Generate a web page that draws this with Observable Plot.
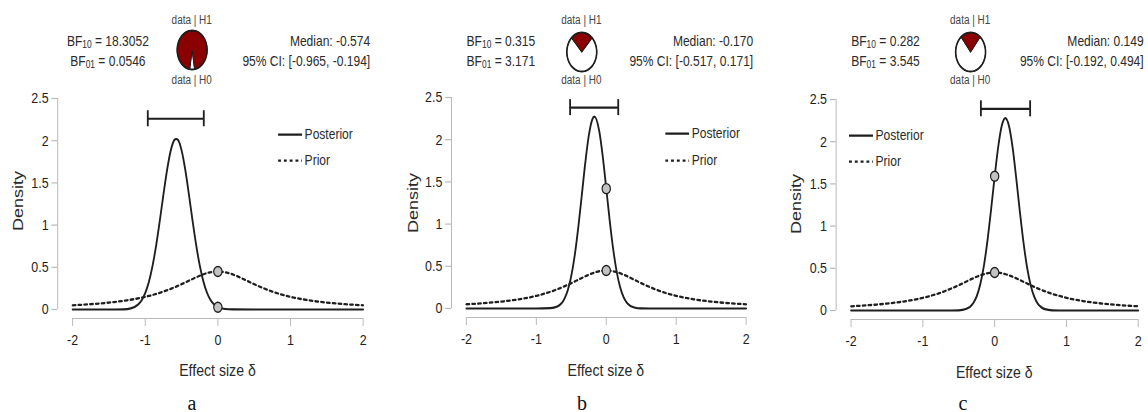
<!DOCTYPE html>
<html><head><meta charset="utf-8">
<script src="https://cdn.jsdelivr.net/npm/d3@7"></script>
<script src="https://cdn.jsdelivr.net/npm/@observablehq/plot@0.6"></script>
<style>
body{margin:0;background:#fff;}
#root{position:relative;width:1148px;height:412px;overflow:hidden;background:#fff;font-family:"Liberation Sans",Arial,Helvetica,sans-serif;}
.panel{position:absolute;top:0;width:461px;height:412px;transform:scaleX(0.83);transform-origin:0 0;}
.t{position:absolute;white-space:nowrap;line-height:1.15;color:#2a2a2a;}
.t sub{font-size:70%;line-height:0;vertical-align:-0.25em;}
.panel svg{position:absolute;left:0;top:0;}
.letter{position:absolute;font-family:"Liberation Serif","Times New Roman",serif;font-size:20px;line-height:1.15;color:#111;transform:translate(-50%,-50%);}
</style></head><body><div id="root"></div><script>
// ---------------- data ----------------
const panelIds = ["a", "b", "c"];
const bf10 = [18.3052, 0.315, 0.282];
const bf10Text = ["18.3052", "0.315", "0.282"];
const bf01Text = ["0.0546", "3.171", "3.545"];
const medianText = ["-0.574", "-0.170", "0.149"];
const ciLow = [-0.965, -0.517, -0.192];
const ciHigh = [-0.194, 0.171, 0.494];
const ciLowText = ["-0.965", "-0.517", "-0.192"];
const ciHighText = ["-0.194", "0.171", "0.494"];
const ciBarY = [2.26, 2.38, 2.39];
const dotPosterior = [0.027, 1.42, 1.59];
const dotPrior = [0.45, 0.45, 0.45];
const xTicks = [-2, -1, 0, 1, 2];
const xTickLabels = ["-2", "-1", "0", "1", "2"];
const yTicks = [0, 0.5, 1, 1.5, 2, 2.5];
const yTickLabels = ["0", "0.5", "1", "1.5", "2", "2.5"];
const legendLabels = ["Posterior", "Prior"];

const priorX = [-2, -1.75, -1.5, -1.25, -1, -0.75, -0.625, -0.5, -0.375, -0.25, -0.125, 0, 0.125, 0.25, 0.375, 0.5, 0.625, 0.75, 1, 1.25, 1.5, 1.75, 2];
const priorY = [0.050, 0.063, 0.082, 0.109, 0.150, 0.212, 0.253, 0.300, 0.351, 0.400, 0.437, 0.450, 0.437, 0.400, 0.351, 0.300, 0.253, 0.212, 0.150, 0.109, 0.082, 0.063, 0.050];

const postAX = [-2, -1.5, -1.3, -1.2, -1.1, -1.05, -1.0, -0.95, -0.9, -0.85, -0.8, -0.75, -0.7, -0.65, -0.6, -0.574, -0.55, -0.5, -0.45, -0.4, -0.35, -0.3, -0.25, -0.2, -0.15, -0.1, -0.05, 0, 0.1, 0.2, 0.5, 2];
const postAY = [0, 0, 0.002, 0.013, 0.058, 0.109, 0.195, 0.327, 0.515, 0.759, 1.05, 1.359, 1.65, 1.88, 2.007, 2.02, 2.01, 1.887, 1.661, 1.37, 1.061, 0.77, 0.523, 0.334, 0.2, 0.111, 0.059, 0.029, 0.006, 0.001, 0, 0];

const postBX = [-2, -1, -0.8, -0.7, -0.6, -0.55, -0.5, -0.45, -0.4, -0.35, -0.3, -0.25, -0.2, -0.17, -0.1, -0.05, 0, 0.05, 0.1, 0.15, 0.2, 0.25, 0.3, 0.4, 0.5, 0.7, 2];
const postBY = [0, 0, 0.004, 0.024, 0.113, 0.218, 0.388, 0.636, 0.963, 1.343, 1.727, 2.048, 2.24, 2.273, 2.10, 1.799, 1.42, 1.036, 0.697, 0.431, 0.247, 0.13, 0.063, 0.012, 0.001, 0, 0];

const postCX = [-2, -0.7, -0.5, -0.4, -0.3, -0.25, -0.2, -0.15, -0.1, -0.05, 0, 0.05, 0.1, 0.149, 0.2, 0.25, 0.3, 0.35, 0.4, 0.45, 0.5, 0.55, 0.6, 0.65, 0.7, 0.8, 1, 2];
const postCY = [0, 0, 0.002, 0.017, 0.085, 0.169, 0.312, 0.529, 0.829, 1.195, 1.587, 1.942, 2.193, 2.28, 2.185, 1.931, 1.571, 1.178, 0.816, 0.519, 0.305, 0.165, 0.082, 0.038, 0.016, 0.002, 0, 0];

const posteriorsX = [postAX, postBX, postCX];
const posteriorsY = [postAY, postBY, postCY];

// ---------------- layout (unscaled panel coords) ----------------
const panelLeft = [0, 383, 766];
const specs = [
  {mL: 87, mR: 24, mT: 98, zeroY: 309, bfX: 130, medX: 446, pieX: 231, pieY: 49, legX: 335, legY: [134, 160], densX: 21.7, densY: 201, effY: 371},
  {mL: 100, mR: 24, mT: 97, zeroY: 308, bfX: 142, medX: 446, pieX: 239, pieY: 51, legX: 340, legY: [133, 160], densX: 36, densY: 203, effY: 371},
  {mL: 102, mR: 13, mT: 99, zeroY: 310, bfX: 144, medX: 455, pieX: 246, pieY: 51, legX: 100, legY: [135, 161], densX: 36, densY: 204, effY: 373}
];
const letterX = [192, 582, 963];

const FONT = '"Liberation Sans", Arial, Helvetica, sans-serif';
const GRAY = "#b9b9b9";
const INK = "#1e1e1e";
const W = 461, H = 350;

const root = document.getElementById("root");

function addText(parent, html, x, yc, fs, anchor, rotate) {
  const d = document.createElement("div");
  d.className = "t";
  d.innerHTML = html;
  d.style.left = x + "px";
  d.style.top = yc + "px";
  d.style.fontSize = fs + "px";
  const ax = anchor === "middle" ? "-50%" : anchor === "end" ? "-100%" : "0";
  d.style.transform = `translate(${ax}, -50%)` + (rotate ? ` rotate(${rotate}deg)` : "");
  parent.appendChild(d);
  return d;
}

function wedge(a0, a1) {
  const pts = [{x: 0, y: 0}];
  const n = 60;
  for (let k = 0; k <= n; k++) {
    const t = a0 + (a1 - a0) * k / n;
    pts.push({x: Math.sin(t), y: Math.cos(t)});
  }
  pts.push({x: 0, y: 0});
  return pts;
}

panelIds.forEach((id, i) => {
  const s = specs[i];
  const panel = document.createElement("div");
  panel.className = "panel";
  panel.style.left = panelLeft[i] + "px";
  root.appendChild(panel);

  const prior = priorX.map((x, k) => ({x, y: priorY[k]}));
  const post = posteriorsX[i].map((x, k) => ({x, y: posteriorsY[i][k]}));
  const ci = [{lo: ciLow[i], hi: ciHigh[i], y: ciBarY[i]}];
  const ciEnds = [{x: ciLow[i], y: ciBarY[i]}, {x: ciHigh[i], y: ciBarY[i]}];
  const dots = [{x: 0, y: dotPrior[i]}, {x: 0, y: dotPosterior[i]}];
  const x0 = xTicks[0], x1 = xTicks[xTicks.length - 1];
  const y0 = yTicks[0], y1 = yTicks[yTicks.length - 1];

  const chart = Plot.plot({
    width: W, height: H,
    marginLeft: s.mL, marginRight: s.mR, marginTop: s.mT, marginBottom: H - s.zeroY,
    x: {domain: [x0, x1], label: null},
    y: {domain: [y0, y1], label: null},
    style: {fontFamily: FONT, fontSize: "15px", color: INK, background: "none", overflow: "visible"},
    marks: [
      Plot.ruleX([x0], {y1: y0, y2: y1, dx: -18, stroke: GRAY, strokeWidth: 1.2}),
      Plot.axisY({ticks: yTicks, tickFormat: d => yTickLabels[yTicks.indexOf(d)], dx: -18, tickSize: 7, tickPadding: 4, stroke: GRAY, strokeWidth: 1.2, label: null}),
      Plot.ruleY([y0], {x1: x0, x2: x1, dy: 9, stroke: GRAY, strokeWidth: 1.2}),
      Plot.axisX({ticks: xTicks, tickFormat: d => xTickLabels[xTicks.indexOf(d)], dy: 9, tickSize: 8, tickPadding: 8, stroke: GRAY, strokeWidth: 1.2, label: null}),
      Plot.line(prior, {x: "x", y: "y", stroke: INK, strokeWidth: 2.3, strokeDasharray: "3.5,3.5", curve: "monotone-x"}),
      Plot.line(post, {x: "x", y: "y", stroke: INK, strokeWidth: 2.2, curve: "monotone-x"}),
      Plot.ruleY(ci, {x1: "lo", x2: "hi", y: "y", stroke: INK, strokeWidth: 2.2}),
      Plot.ruleX(ciEnds, {x: "x", y1: "y", y2: "y", insetTop: -8, insetBottom: -8, stroke: INK, strokeWidth: 2.2}),
      Plot.dot(dots, {x: "x", y: "y", r: 5, fill: "#c2c2c2", stroke: INK, strokeWidth: 1.4})
    ]
  });
  panel.appendChild(chart);

  // pie chart of data|H1 vs data|H0
  const p = bf10[i] / (1 + bf10[i]);
  const red = wedge(-p * Math.PI, p * Math.PI);
  const white = wedge(p * Math.PI, 2 * Math.PI - p * Math.PI);
  const ring = wedge(0, 2 * Math.PI).slice(1, -1);
  const pw = 40, ph = 43;
  const pie = Plot.plot({
    width: pw, height: ph, margin: 2,
    x: {domain: [-1, 1], axis: null},
    y: {domain: [-1, 1], axis: null},
    style: {background: "none", overflow: "visible"},
    marks: [
      Plot.line(white, {x: "x", y: "y", fill: "#ffffff", stroke: INK, strokeWidth: 1.1}),
      Plot.line(red, {x: "x", y: "y", fill: "#8b0000", stroke: INK, strokeWidth: 1.1}),
      Plot.line(ring, {x: "x", y: "y", stroke: INK, strokeWidth: 1.9})
    ]
  });
  pie.style.left = (s.pieX - pw / 2) + "px";
  pie.style.top = (s.pieY - ph / 2) + "px";
  panel.appendChild(pie);

  // header texts
  addText(panel, "data | H1", s.pieX, 21, 12, "middle").style.color = "#444";
  addText(panel, "data | H0", s.pieX, 80.5, 12, "middle").style.color = "#444";
  addText(panel, `BF<sub>10</sub> = ${bf10Text[i]}`, s.bfX, 41, 14.5, "middle");
  addText(panel, `BF<sub>01</sub> = ${bf01Text[i]}`, s.bfX, 61, 14.5, "middle");
  addText(panel, `Median: ${medianText[i]}`, s.medX, 41, 14.5, "end");
  addText(panel, `95% CI: [${ciLowText[i]}, ${ciHighText[i]}]`, s.medX, 61, 14.5, "end");

  // legend
  legendLabels.forEach((lab, k) => {
    const dash = k === 1 ? ' stroke-dasharray="3.5,3.5"' : "";
    addText(panel, `<svg width="29" height="6" style="position:static;vertical-align:middle;margin-right:3px"><line x1="0" y1="3" x2="29" y2="3" stroke="${INK}" stroke-width="2.4"${dash}/></svg>${lab}`, s.legX, s.legY[k], 14.5, "start");
  });

  // axis titles
  const midX = (s.mL + (W - s.mR)) / 2;
  addText(panel, "Effect size δ", midX, s.effY, 17, "middle");
  addText(panel, "Density", s.densX, s.densY, 18, "middle", -90);

  // panel letter
  const L = document.createElement("div");
  L.className = "letter";
  L.textContent = id;
  L.style.left = letterX[i] + "px";
  L.style.top = "403px";
  root.appendChild(L);
});
</script></body></html>
